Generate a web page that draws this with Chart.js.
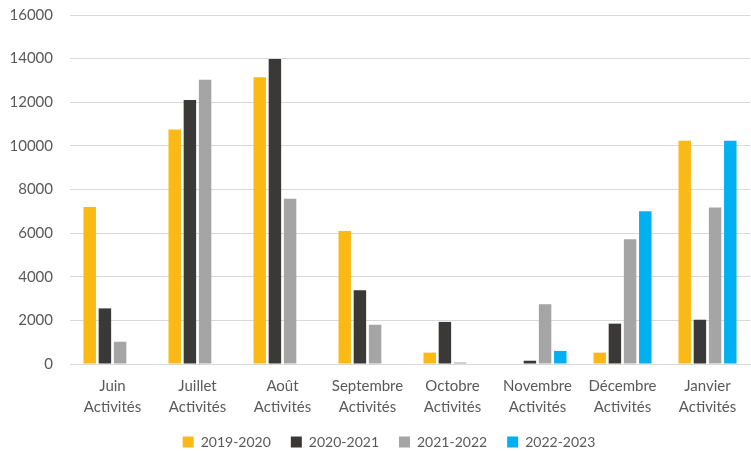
<!DOCTYPE html>
<html>
<head>
<meta charset="utf-8">
<script src="https://cdn.jsdelivr.net/npm/chart.js@4"></script>
<style>
  body { margin: 0; background: #fff; }
  #wrap { width: 751px; height: 451px; }
</style>
</head>
<body>
<div id="wrap"><canvas id="myCanvas" width="751" height="451"></canvas></div>
<script>
// categories (two-line labels)
var mois = [
    ['Juin', 'Activités'], ['Juillet', 'Activités'], ['Août', 'Activités'],
    ['Septembre', 'Activités'], ['Octobre', 'Activités'], ['Novembre', 'Activités'],
    ['Décembre', 'Activités'], ['Janvier', 'Activités']
];
var saisons = ['2019-2020', '2020-2021', '2021-2022', '2022-2023'];
var couleurs = ['#FBB916', '#3A3937', '#A5A5A5', '#00B0F0'];

var s2019 = [7200, 10750, 13150, 6100, 520, 0, 520, 10240];
var s2020 = [2550, 12100, 13980, 3380, 1930, 150, 1850, 2030];
var s2021 = [1020, 13030, 7580, 1800, 70, 2740, 5720, 7180];
var s2022 = [null, null, null, null, null, 600, 7000, 10240];

var yTicks = [0, 2000, 4000, 6000, 8000, 10000, 12000, 14000, 16000];

var series = [s2019, s2020, s2021, s2022];
var datasets = [];
for (var i = 0; i < series.length; i++) {
    datasets.push({
        label: saisons[i],
        data: series[i],
        backgroundColor: couleurs[i],
        borderWidth: 0,
        barPercentage: 0.82,
        categoryPercentage: 0.715
    });
}

Chart.defaults.font.family = 'Lato, "Open Sans", sans-serif';
Chart.defaults.font.size = 14;
Chart.defaults.color = '#595959';

// nudge the legend a little to the right, like the original
var decaleLegende = {
    id: 'decaleLegende',
    afterLayout: function (chart) {
        chart.legend.left += 14;
        chart.legend.right += 14;
    }
};

var ctx = document.getElementById('myCanvas').getContext('2d');
var chart = new Chart(ctx, {
    type: 'bar',
    data: {
        labels: mois,
        datasets: datasets
    },
    plugins: [decaleLegende],
    options: {
        responsive: false,
        animation: false,
        layout: { padding: { top: 15, right: 1, left: 0, bottom: -8 } },
        plugins: {
            legend: {
                position: 'bottom',
                labels: { boxWidth: 11, boxHeight: 11, padding: 20, color: '#595959', font: { size: 14 } }
            },
            tooltip: { enabled: false }
        },
        scales: {
            x: {
                grid: { display: false, drawTicks: false },
                border: { color: '#D9D9D9', width: 1 },
                ticks: { padding: 12, color: '#595959', maxRotation: 0, font: { size: 15, lineHeight: 1.4 } },
                afterFit: function (axis) { axis.height = 51; }
            },
            y: {
                min: 0,
                max: 16000,
                afterBuildTicks: function (axis) {
                    axis.ticks = yTicks.map(function (v) { return { value: v }; });
                },
                grid: { color: '#D9D9D9', drawTicks: false },
                border: { display: false },
                ticks: {
                    padding: 17,
                    color: '#595959',
                    font: { size: 15 },
                    callback: function (v) { return String(v); }
                },
                afterFit: function (axis) {
                    axis.width = 70;
                    axis.paddingTop = 0;
                }
            }
        }
    }
});
</script>
</body>
</html>
